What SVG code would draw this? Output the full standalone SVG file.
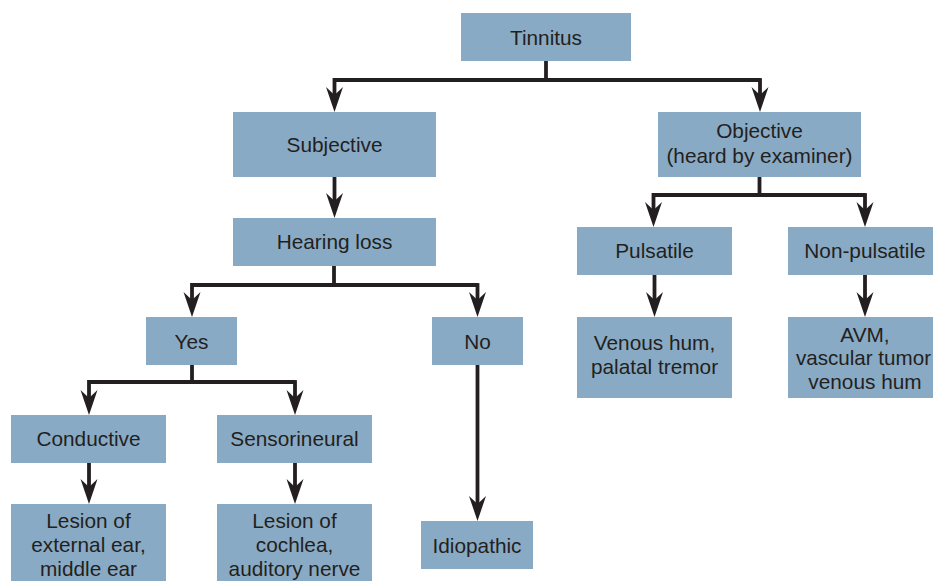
<svg xmlns="http://www.w3.org/2000/svg" width="933" height="581" viewBox="0 0 933 581">
<defs>
<style>
.box{fill:#89aac4}
.t{font-family:"Liberation Sans",Arial,Helvetica,sans-serif;font-size:20.8px;fill:#231f20;text-anchor:middle}
.c{fill:none;stroke:#231f20;stroke-width:3.8;stroke-linejoin:miter;stroke-linecap:butt}
</style>
<marker id="ah" viewBox="-26 -10 28 20" refX="-14" refY="0" markerWidth="28" markerHeight="20" markerUnits="userSpaceOnUse" orient="auto">
<path d="M0,0 L-25,-8.5 L-17,0 L-25,8.5 Z" fill="#231f20"/>
</marker>
</defs>
<rect width="933" height="581" fill="#ffffff"/>
<g id="connectors">
<path class="c" d="M546,61 V80"/>
<path class="c" d="M334.5,80 H760 M334.5,78.1 V98" marker-end="url(#ah)"/>
<path class="c" d="M760,78.1 V98" marker-end="url(#ah)"/>
<path class="c" d="M334.5,177 V204" marker-end="url(#ah)"/>
<path class="c" d="M334,266 V285"/>
<path class="c" d="M192,285 H477.5 M192,283.1 V303" marker-end="url(#ah)"/>
<path class="c" d="M477.5,283.1 V303" marker-end="url(#ah)"/>
<path class="c" d="M759.5,177 V195"/>
<path class="c" d="M653.5,195 H865 M653.5,193.1 V213" marker-end="url(#ah)"/>
<path class="c" d="M865,193.1 V213" marker-end="url(#ah)"/>
<path class="c" d="M654.5,275 V303" marker-end="url(#ah)"/>
<path class="c" d="M865,275 V303" marker-end="url(#ah)"/>
<path class="c" d="M192,365 V382"/>
<path class="c" d="M89,382 H295 M89,380.1 V401" marker-end="url(#ah)"/>
<path class="c" d="M295,380.1 V401" marker-end="url(#ah)"/>
<path class="c" d="M89,463 V490" marker-end="url(#ah)"/>
<path class="c" d="M295,463 V490" marker-end="url(#ah)"/>
<path class="c" d="M477.5,365 V507" marker-end="url(#ah)"/>
</g>
<g id="tinnitus"><rect class="box" x="461" y="13" width="170" height="48"/><text class="t" x="546" y="45">Tinnitus</text></g>
<g id="subjective"><rect class="box" x="233" y="112" width="203" height="65"/><text class="t" x="334.5" y="152">Subjective</text></g>
<g id="objective"><rect class="box" x="658" y="112" width="203" height="65"/><text class="t" x="759.5" y="138">Objective</text><text class="t" x="759.5" y="163">(heard by examiner)</text></g>
<g id="hearing-loss"><rect class="box" x="233" y="218" width="203" height="48"/><text class="t" x="334.5" y="249">Hearing loss</text></g>
<g id="pulsatile"><rect class="box" x="577" y="227" width="155" height="48"/><text class="t" x="654.5" y="258">Pulsatile</text></g>
<g id="non-pulsatile"><rect class="box" x="788" y="227" width="150" height="48"/><text class="t" x="865" y="258">Non-pulsatile</text></g>
<g id="venous"><rect class="box" x="577" y="317" width="155" height="81"/><text class="t" x="654.5" y="350">Venous hum,</text><text class="t" x="654.5" y="374">palatal tremor</text></g>
<g id="avm"><rect class="box" x="788" y="317" width="150" height="81"/><text class="t" x="865" y="341.5">AVM,</text><text class="t" x="863.5" y="365" textLength="135" lengthAdjust="spacingAndGlyphs">vascular tumor</text><text class="t" x="865" y="388.5">venous hum</text></g>
<g id="yes"><rect class="box" x="146" y="317" width="91" height="48"/><text class="t" x="191.5" y="348.5">Yes</text></g>
<g id="no"><rect class="box" x="432" y="317" width="91" height="48"/><text class="t" x="477.5" y="348.5">No</text></g>
<g id="conductive"><rect class="box" x="11" y="415" width="155" height="48"/><text class="t" x="88.5" y="446">Conductive</text></g>
<g id="sensorineural"><rect class="box" x="217" y="415" width="155" height="48"/><text class="t" x="294.5" y="446">Sensorineural</text></g>
<g id="lesion-external"><rect class="box" x="11" y="504" width="155" height="82"/><text class="t" x="88.5" y="528">Lesion of</text><text class="t" x="88.5" y="552">external ear,</text><text class="t" x="88.5" y="576">middle ear</text></g>
<g id="lesion-cochlea"><rect class="box" x="217" y="504" width="155" height="82"/><text class="t" x="294.5" y="528">Lesion of</text><text class="t" x="294.5" y="552">cochlea,</text><text class="t" x="294.5" y="576">auditory nerve</text></g>
<g id="idiopathic"><rect class="box" x="421" y="521" width="112" height="48"/><text class="t" x="477" y="553">Idiopathic</text></g>
</svg>
